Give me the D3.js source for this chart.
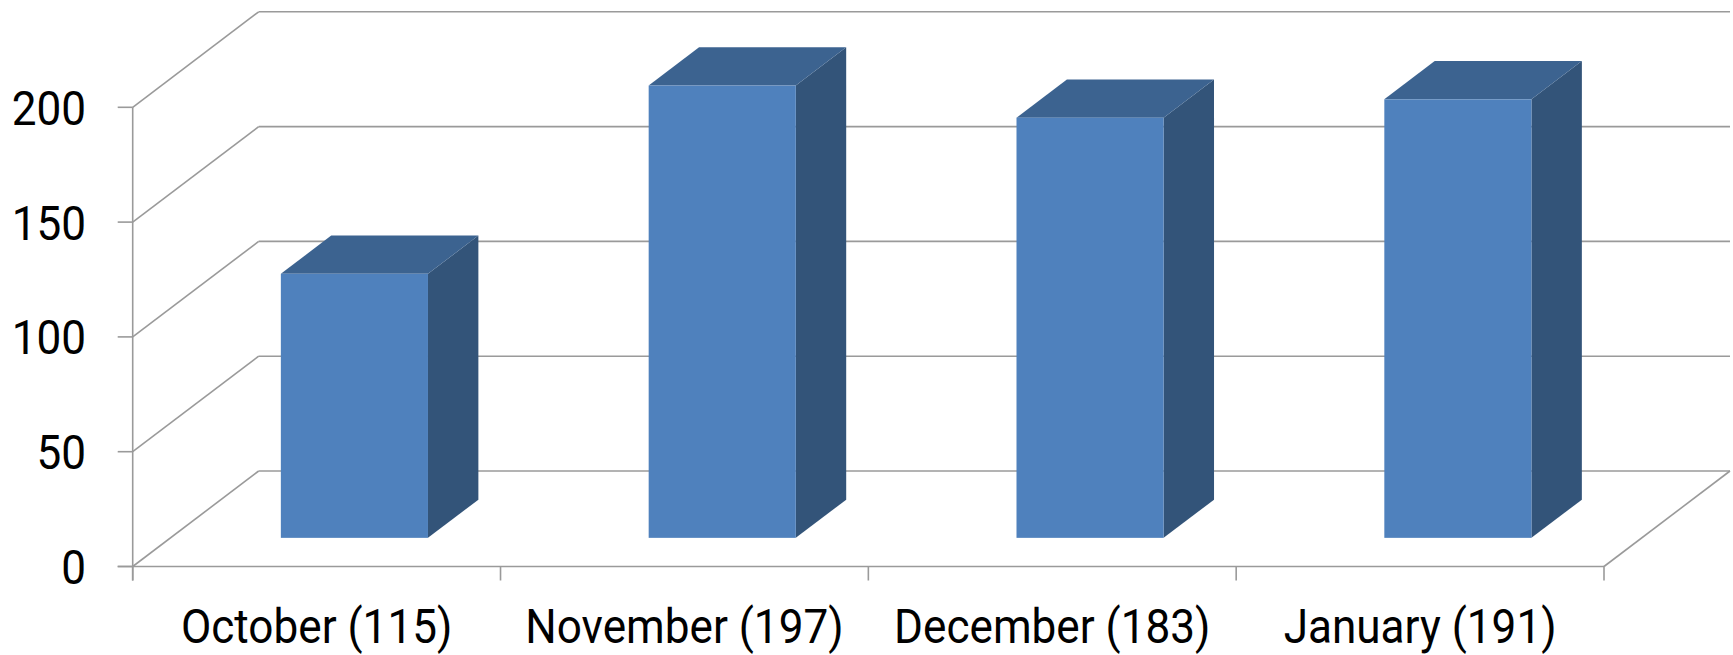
<!DOCTYPE html>
<html>
<head>
<meta charset="utf-8">
<script src="https://cdn.jsdelivr.net/npm/d3@7"></script>
<style>
  html, body { margin: 0; padding: 0; background: #fff; }
  svg { display: block; }
  text { font-family: Roboto, "Liberation Sans", sans-serif; fill: #000; }
</style>
</head>
<body>
<svg id="chart" width="1733" height="655"></svg>
<script>
// ---- data ----
const categories = ["October (115)", "November (197)", "December (183)", "January (191)"];
const values = [115, 197, 183, 191];
const yTicks = [0, 50, 100, 150, 200];

// ---- layout ----
const W = 1733, H = 655;
const x0 = 132.7, x1 = 1604;
const depth = { dx: 126, dy: -95.5 };
const bar = { front: 0.3, back: 0.7 };
const colors = { front: "#4F81BD", side: "#335479", top: "#3C6390", grid: "#9a9a9a" };

const svg = d3.select("#chart");

const y = d3.scaleLinear().domain([0, 200]).range([566.5, 107.3]);
const x = d3.scaleBand().domain(categories).range([x0, x1]).paddingInner(0.6).paddingOuter(0.3);
const step = x.step();

const gGrid = svg.append("g").attr("stroke", colors.grid).attr("stroke-width", 1.6).attr("fill", "none");

// back wall gridlines
gGrid.selectAll("line.back").data(yTicks).join("line")
  .attr("class", "back")
  .attr("x1", x0 + depth.dx).attr("x2", x1 + depth.dx)
  .attr("y1", d => y(d) + depth.dy).attr("y2", d => y(d) + depth.dy);

// left wall diagonals
gGrid.selectAll("line.side").data(yTicks).join("line")
  .attr("class", "side")
  .attr("x1", x0).attr("x2", x0 + depth.dx)
  .attr("y1", d => y(d)).attr("y2", d => y(d) + depth.dy);

// floor right edge
gGrid.append("line")
  .attr("x1", x1).attr("y1", y(0))
  .attr("x2", x1 + depth.dx).attr("y2", y(0) + depth.dy);

// bars
const gBars = svg.append("g");
const data = categories.map((c, i) => ({ c, v: values[i] }));
const fdx = depth.dx * bar.front, fdy = depth.dy * bar.front;
const bdx = depth.dx * bar.back, bdy = depth.dy * bar.back;

const bars = gBars.selectAll("g").data(data).join("g");
const pts = a => a.map(p => p.join(",")).join(" ");

bars.each(function (d) {
  const g = d3.select(this);
  const L = x(d.c) + fdx, R = x(d.c) + x.bandwidth() + fdx;
  const T = y(d.v) + fdy, B = y(0) + fdy;
  const ddx = bdx - fdx, ddy = bdy - fdy;
  // side
  g.append("polygon").attr("fill", colors.side)
    .attr("points", pts([[R, T], [R + ddx, T + ddy], [R + ddx, B + ddy], [R, B]]));
  // top
  g.append("polygon").attr("fill", colors.top)
    .attr("points", pts([[L, T], [L + ddx, T + ddy], [R + ddx, T + ddy], [R, T]]));
  // front
  g.append("rect").attr("fill", colors.front)
    .attr("x", L).attr("y", T).attr("width", R - L).attr("height", B - T);
});

// front axes
const gAxis = svg.append("g").attr("stroke", colors.grid).attr("stroke-width", 1.6).attr("fill", "none");
gAxis.append("line").attr("x1", x0).attr("x2", x0).attr("y1", y(200)).attr("y2", y(0) + 14);
gAxis.append("line").attr("x1", x0 - 15).attr("x2", x1).attr("y1", y(0)).attr("y2", y(0));
gAxis.selectAll("line.yt").data(yTicks).join("line").attr("class", "yt")
  .attr("x1", x0 - 15).attr("x2", x0).attr("y1", d => y(d)).attr("y2", d => y(d));
gAxis.selectAll("line.xt").data(d3.range(categories.length + 1)).join("line").attr("class", "xt")
  .attr("x1", i => x0 + i * step).attr("x2", i => x0 + i * step)
  .attr("y1", y(0)).attr("y2", y(0) + 14);

// labels
const fs = 49, sx = 0.9;
svg.append("g").selectAll("g").data(yTicks).join("g")
  .attr("transform", d => `translate(86,${y(d) + 17.4}) scale(${sx},1)`)
  .append("text").attr("text-anchor", "end").attr("font-size", fs).text(d => d);

svg.append("g").selectAll("g").data(categories).join("g")
  .attr("transform", d => `translate(${x(d) + x.bandwidth() / 2},642.5) scale(${sx},1)`)
  .append("text").attr("text-anchor", "middle").attr("font-size", fs).text(d => d);
</script>
</body>
</html>
